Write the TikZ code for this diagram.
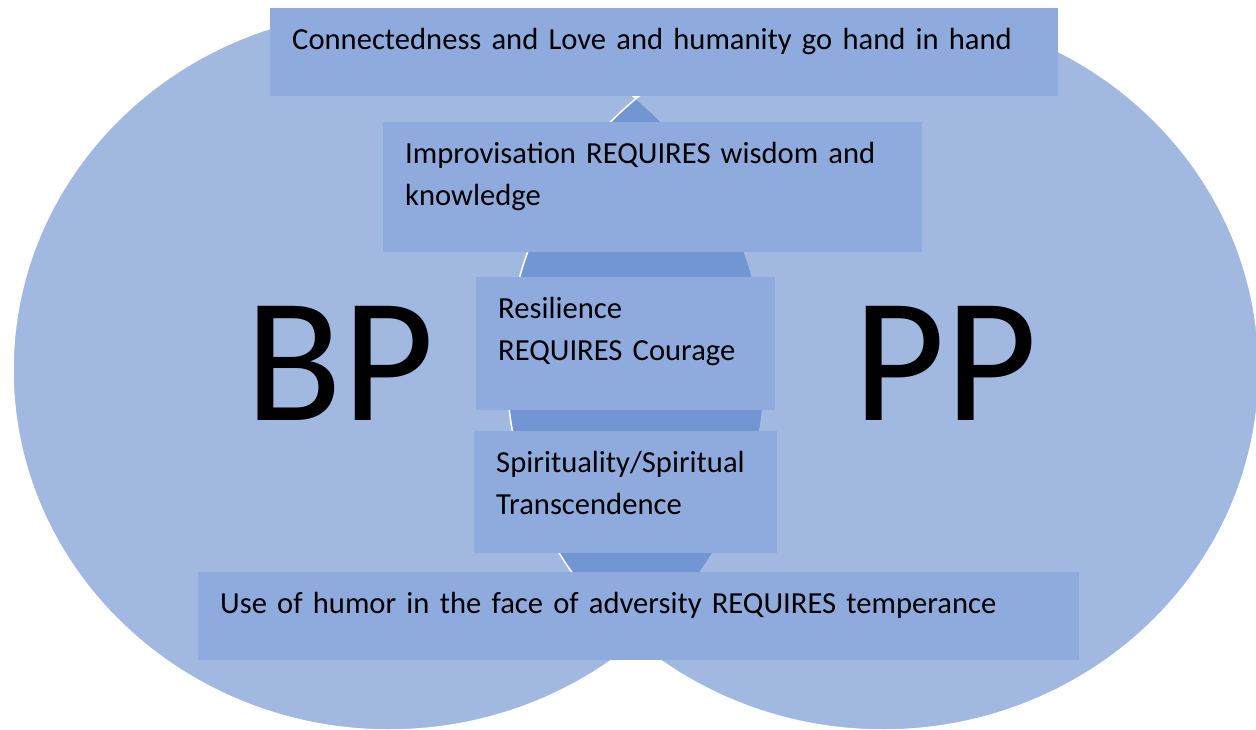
\documentclass[tikz,border=0pt]{standalone}
\usepackage{fontspec}
\setmainfont{Carlito}
\definecolor{accent}{HTML}{4472C4}
\definecolor{boxfill}{HTML}{8FAADC}
\begin{document}
\begin{tikzpicture}[x=1pt,y=-1pt,
  setcircle/.style={fill=accent, fill opacity=0.5, draw=white, draw opacity=1, line width=1.5pt},
  notebox/.style={fill=boxfill, draw=none, anchor=north west, inner xsep=22pt, inner ysep=0pt,
    text height=41pt, align=left, font=\fontsize{30.6}{42}\selectfont, text=black},
  biglabel/.style={font=\fontsize{178}{178}\selectfont, anchor=base, inner sep=0pt, text=black}]
\useasboundingbox (0,0) rectangle (1256,730);
% the two overlapping sets
\path[setcircle] (389,370) ellipse [x radius=376pt, y radius=360pt];
\path[setcircle] (883,370) ellipse [x radius=376pt, y radius=360pt];
% set labels
\node[biglabel] (bp) at (340,420) {BP};
\node[biglabel] (pp) at (945,420) {PP};
% shared statements
\node[notebox, text width=744pt, text depth=47pt] (love) at (270,8)
  {Connectedness and Love and humanity go hand in hand};
\node[notebox, text width=495pt, text depth=89pt] (improv) at (383,122)
  {Improvisation REQUIRES wisdom and\\knowledge};
\node[notebox, text width=255pt, text depth=92pt] (resil) at (476,277)
  {Resilience\\REQUIRES Courage};
\node[notebox, text width=259pt, text depth=81pt] (spirit) at (474,431)
  {Spirituality/Spiritual\\Transcendence};
\node[notebox, text width=837pt, text depth=47pt] (humor) at (198,572)
  {Use of humor in the face of adversity REQUIRES temperance};
\end{tikzpicture}
\end{document}
